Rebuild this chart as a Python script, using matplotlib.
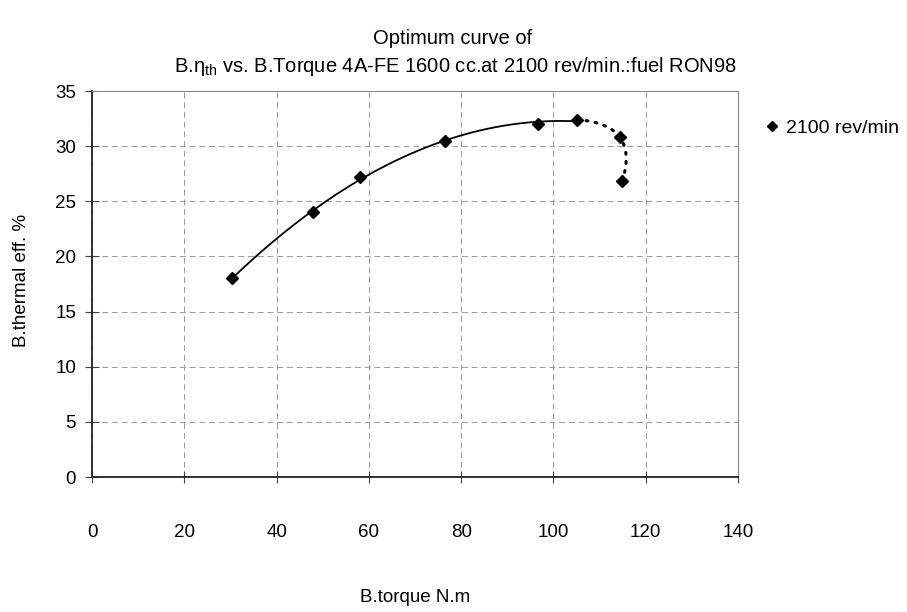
import numpy as np
import matplotlib
matplotlib.use("Agg")
import matplotlib.pyplot as plt
from matplotlib.lines import Line2D

plt.rcParams['font.family'] = ['Liberation Sans', 'DejaVu Sans']

torque = [30.3, 48.0, 58.0, 76.5, 96.7, 105.1, 114.4, 114.9]
eff = [18.0, 24.0, 27.2, 30.5, 32.0, 32.4, 30.8, 26.8]
x_ticks = [0, 20, 40, 60, 80, 100, 120, 140]
y_ticks = [0, 5, 10, 15, 20, 25, 30, 35]

FS = 13.5
TFS = 14.5

fig = plt.figure(figsize=(9.07, 6.12), dpi=100)
ax = fig.add_axes([92/907, 1-477/612, (738-92)/907, (477-91)/612])

# solid trend (quadratic fit of the first six points)
c = np.polyfit(torque[:6], eff[:6], 2)
xs = np.linspace(torque[0], torque[5], 200)
ax.plot(xs, np.polyval(c, xs), color='black', lw=1.3, zorder=3)

# dotted smooth curve through last three points (parametric quadratic)
px = np.array(torque[5:8]); py = np.array(eff[5:8])
tk = np.array([0.0, 0.5, 1.0])
t = np.linspace(0, 1, 100)
cx = np.polyfit(tk, px, 2); cy = np.polyfit(tk, py, 2)
ax.plot(np.polyval(cx, t), np.polyval(cy, t), color='black', lw=2.2,
        linestyle=(0, (0.6, 2.4)), dash_capstyle='round', zorder=3)

ax.plot(torque, eff, linestyle='none', marker='D', ms=6.5, color='black', zorder=4)

ax.set_xlim(0, 140)
ax.set_ylim(0, 35)
ax.set_xticks(x_ticks)
ax.set_yticks(y_ticks)
ax.tick_params(axis='x', direction='inout', length=8, pad=29.5, labelsize=FS, color='#444444')
ax.tick_params(axis='y', direction='inout', length=10, pad=6.5, labelsize=FS, color='#444444')
ax.grid(True, color='#999999', linestyle=(0, (6, 4)), linewidth=0.7)
for s in ['left', 'bottom']:
    ax.spines[s].set_color('#222222')
    ax.spines[s].set_linewidth(1.3)
for s in ['top', 'right']:
    ax.spines[s].set_color('#888888')
    ax.spines[s].set_linewidth(0.8)

fig.text(453/907, 1-38/612, 'Optimum curve of', ha='center', va='center', fontsize=TFS)
fig.text(455/907, 1-67/612, r'B.$\mathregular{\eta_{th}}$ vs. B.Torque 4A-FE 1600 cc.at 2100 rev/min.:fuel RON98',
         ha='center', va='center', fontsize=TFS)
fig.text(415/907, 1-597/612, 'B.torque N.m', ha='center', va='center', fontsize=FS)
fig.text(22/907, 1-280/612, 'B.thermal eff. %', ha='center', va='center', rotation=90, fontsize=FS)

h = Line2D([], [], linestyle='none', marker='D', ms=5, color='black')
fig.legend([h], ['2100 rev/min'], loc='center left', bbox_to_anchor=(764/907, 1-128/612),
           frameon=False, fontsize=14, handlelength=0.8, handletextpad=0.35,
           borderpad=0, borderaxespad=0)

fig.savefig('out.png', dpi=100)
